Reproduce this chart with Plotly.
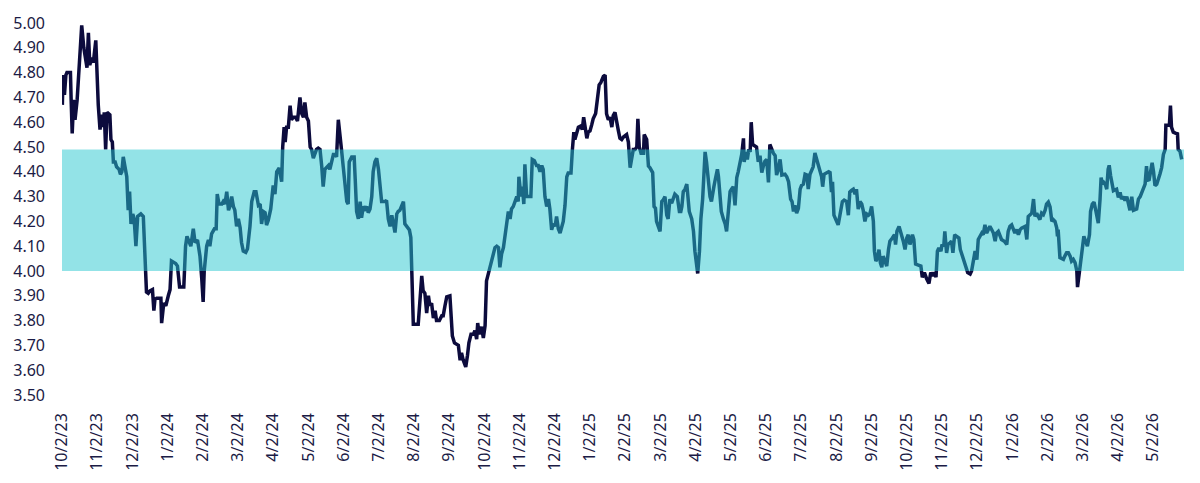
import plotly.graph_objects as go

# Tick labels (one per month, evenly spaced)
tick_labels = ["10/2/23", "11/2/23", "12/2/23", "1/2/24", "2/2/24", "3/2/24", "4/2/24",
               "5/2/24", "6/2/24", "7/2/24", "8/2/24", "9/2/24", "10/2/24", "11/2/24",
               "12/2/24", "1/2/25", "2/2/25", "3/2/25", "4/2/25", "5/2/25", "6/2/25",
               "7/2/25", "8/2/25", "9/2/25", "10/2/25", "11/2/25", "12/2/25", "1/2/26",
               "2/2/26", "3/2/26", "4/2/26", "5/2/26"]

# Time position in months since 10/2/23
months = [
    0.01, 0.03, 0.07, 0.11, 0.14, 0.24, 0.26, 0.29, 0.33, 0.37, 0.43, 0.46, 0.51, 0.56, 0.62,
    0.67, 0.71, 0.75, 0.79, 0.84, 0.89, 0.96, 0.99, 1.03, 1.08, 1.13, 1.17, 1.20, 1.24, 1.28,
    1.36, 1.39, 1.43, 1.46, 1.51, 1.55, 1.62, 1.66, 1.70, 1.74, 1.79, 1.84, 1.88, 1.92, 1.96,
    2.01, 2.05, 2.10, 2.15, 2.24, 2.31, 2.36, 2.40, 2.45, 2.50, 2.57, 2.61, 2.64, 2.69, 2.81,
    2.83, 2.89, 2.95, 3.02, 3.07, 3.11, 3.23, 3.28, 3.34, 3.46, 3.51, 3.55, 3.61, 3.66, 3.73,
    3.78, 3.85, 3.92, 3.97, 4.01, 4.04, 4.11, 4.16, 4.20, 4.25, 4.33, 4.38, 4.41, 4.46, 4.54,
    4.58, 4.63, 4.68, 4.73, 4.77, 4.82, 4.87, 4.91, 4.96, 5.01, 5.06, 5.10, 5.15, 5.22, 5.27,
    5.34, 5.39, 5.46,
    5.51, 5.58, 5.63, 5.67, 5.72, 5.77, 5.81, 5.86, 5.93, 6.00, 6.05, 6.10, 6.17, 6.24, 6.27,
    6.31, 6.34, 6.38, 6.43, 6.48, 6.52, 6.57, 6.63, 6.69, 6.76, 6.81, 6.86, 6.90, 6.95, 7.00,
    7.05, 7.09, 7.14, 7.19, 7.23, 7.28, 7.33, 7.38, 7.42, 7.47, 7.52, 7.57, 7.61, 7.66, 7.71,
    7.76, 7.80, 7.85, 7.90, 7.94, 7.99, 8.04, 8.09, 8.13, 8.16, 8.23, 8.30, 8.33, 8.37, 8.42,
    8.47, 8.51, 8.56, 8.61, 8.66, 8.70, 8.75, 8.80, 8.84, 8.89, 8.94, 8.99, 9.03, 9.08, 9.18,
    9.22, 9.27, 9.32, 9.37, 9.41, 9.46, 9.51, 9.55, 9.60, 9.65, 9.70, 9.74, 9.79, 9.87, 9.91,
    9.94, 9.98, 10.12, 10.17, 10.22, 10.26, 10.31, 10.36, 10.41, 10.45, 10.50, 10.55, 10.60,
    10.64, 10.72, 10.79, 10.83, 10.88, 10.93,
    11.02, 11.05, 11.09, 11.15, 11.26, 11.31, 11.35, 11.40, 11.47, 11.52, 11.56, 11.62, 11.69,
    11.73, 11.78, 11.81, 11.85, 11.88, 11.92, 11.97, 12.02, 12.06, 12.11, 12.16, 12.21, 12.25,
    12.30, 12.35, 12.40, 12.44, 12.49, 12.54, 12.59, 12.63, 12.68, 12.73, 12.77, 12.82, 12.87,
    12.92, 12.96, 12.98, 13.04, 13.08, 13.12, 13.15, 13.20, 13.32, 13.36, 13.42, 13.48, 13.53,
    13.58, 13.63, 13.67, 13.72, 13.77, 13.82, 13.86, 13.91, 13.96, 14.01, 14.05, 14.10, 14.15,
    14.19, 14.24, 14.29, 14.34, 14.38, 14.46, 14.50, 14.54, 14.57, 14.62, 14.67, 14.74, 14.78,
    14.82, 14.86, 14.91, 14.95, 15.00, 15.05, 15.09, 15.16, 15.20, 15.26, 15.31, 15.38, 15.43,
    15.47, 15.52, 15.57, 15.62, 15.66, 15.71, 15.76, 15.80, 15.85, 15.90, 15.95, 15.99, 16.04,
    16.09, 16.14, 16.18, 16.23, 16.28, 16.33, 16.36, 16.40, 16.45, 16.52, 16.54,
    16.61, 16.66, 16.70, 16.78, 16.82, 16.86, 16.89, 16.94, 16.99, 17.04, 17.08, 17.13, 17.18,
    17.22, 17.27, 17.32, 17.37, 17.41, 17.48, 17.54, 17.58, 17.61, 17.65, 17.70, 17.75, 17.79,
    17.82, 17.89, 17.94, 17.98, 18.03, 18.06, 18.11, 18.15, 18.20, 18.27, 18.31, 18.36, 18.41,
    18.45, 18.48, 18.52, 18.56, 18.62, 18.65, 18.69, 18.73, 18.79, 18.84, 18.88, 18.93, 18.98,
    19.02, 19.07, 19.12, 19.17, 19.21, 19.26, 19.31, 19.36, 19.38, 19.43, 19.47, 19.51, 19.55,
    19.58, 19.62, 19.73, 19.78, 19.83, 19.88, 19.92, 19.97, 20.02, 20.07, 20.11, 20.16, 20.21,
    20.26, 20.30, 20.35, 20.40, 20.45, 20.54, 20.59, 20.64, 20.70, 20.74, 20.78, 20.82, 20.87,
    20.92, 20.97, 21.01, 21.06, 21.11, 21.16, 21.20, 21.25, 21.30, 21.34, 21.39, 21.44, 21.49,
    21.53, 21.58, 21.61, 21.65, 21.74, 21.78, 21.82, 21.86, 21.89, 21.93, 21.99, 22.05,
    22.10, 22.17, 22.22, 22.29, 22.34, 22.38, 22.43, 22.48, 22.53, 22.57, 22.62, 22.67, 22.72,
    22.76, 22.81, 22.86, 22.91, 22.95, 23.00, 23.05, 23.08, 23.12, 23.17, 23.21, 23.25, 23.29,
    23.33, 23.38, 23.43, 23.48, 23.52, 23.59, 23.65, 23.68, 23.72, 23.78, 23.84, 23.90, 23.95,
    24.00, 24.04, 24.09, 24.16, 24.20, 24.25, 24.40, 24.44, 24.50, 24.56, 24.63, 24.68, 24.73,
    24.78, 24.83, 24.87, 24.91, 24.97, 25.00, 25.05, 25.08, 25.13, 25.17, 25.22, 25.27, 25.31,
    25.36, 25.41, 25.48, 25.52, 25.60, 25.67, 25.73, 25.80, 25.84, 25.89, 25.94, 25.99, 26.03,
    26.08, 26.13, 26.17, 26.22, 26.27, 26.32, 26.36, 26.41, 26.46, 26.51, 26.55, 26.60, 26.65,
    26.69, 26.77, 26.84, 26.88, 26.93, 26.98, 27.03, 27.07, 27.12, 27.17, 27.22, 27.26, 27.36,
    27.41, 27.45, 27.55, 27.60,
    27.64, 27.69, 27.74, 27.78, 27.83, 27.88, 27.93, 27.97, 28.02, 28.07, 28.12, 28.16, 28.21,
    28.26, 28.28, 28.30, 28.35, 28.45, 28.49, 28.54, 28.59, 28.64, 28.68, 28.73, 28.78, 28.83,
    28.85, 28.90, 28.94, 28.99, 29.03, 29.08, 29.13, 29.19, 29.22, 29.27, 29.32, 29.36, 29.41,
    29.44, 29.49, 29.52, 29.56, 29.60, 29.64, 29.68, 29.72, 29.75, 29.79, 29.83, 29.87, 29.96,
    30.01, 30.06, 30.10, 30.15, 30.20, 30.25, 30.29, 30.34, 30.39, 30.44, 30.53, 30.58, 30.63,
    30.67, 30.72, 30.77, 30.81, 30.84, 30.88, 30.93, 30.97, 31.01, 31.05, 31.10, 31.15, 31.19,
    31.24, 31.29, 31.34, 31.36, 31.46, 31.49, 31.52, 31.57, 31.63, 31.69, 31.71, 31.76, 31.81,
]

# Yield values (%)
yields = [
    4.67, 4.79, 4.71, 4.79, 4.80, 4.80, 4.69, 4.555, 4.69, 4.61, 4.69, 4.76, 4.89, 4.99, 4.90,
    4.86, 4.82, 4.96, 4.83, 4.86, 4.84, 4.93, 4.785, 4.67, 4.57, 4.63, 4.58, 4.64, 4.49, 4.64,
    4.63, 4.53, 4.52, 4.44, 4.44, 4.42, 4.41, 4.39, 4.40, 4.46, 4.42, 4.38, 4.245, 4.32, 4.19,
    4.23, 4.21, 4.10, 4.22, 4.23, 4.22, 4.02, 3.915, 3.91, 3.92, 3.925, 3.84, 3.885, 3.89, 3.89,
    3.79, 3.87, 3.86, 3.90, 3.925, 4.04, 4.03, 4.02, 3.935, 3.935, 4.10, 4.14, 4.115, 4.10, 4.17,
    4.115, 4.125, 4.06, 3.97, 3.875, 4.00, 4.10, 4.125, 4.10, 4.15, 4.17, 4.17, 4.31, 4.27, 4.27,
    4.28, 4.27, 4.32, 4.245, 4.26, 4.30, 4.26, 4.245, 4.18, 4.21, 4.175, 4.115, 4.08, 4.075, 4.09,
    4.18, 4.28, 4.32,
    4.32, 4.265, 4.27, 4.19, 4.24, 4.235, 4.185, 4.205, 4.25, 4.345, 4.31, 4.40, 4.415, 4.36, 4.50,
    4.58, 4.52, 4.58, 4.58, 4.667, 4.61, 4.62, 4.62, 4.605, 4.70, 4.635, 4.62, 4.68, 4.62, 4.605,
    4.50, 4.49, 4.455, 4.48, 4.49, 4.495, 4.49, 4.42, 4.34, 4.41, 4.42, 4.425, 4.41, 4.44, 4.47,
    4.47, 4.46, 4.61, 4.555, 4.49, 4.42, 4.36, 4.28, 4.27, 4.44, 4.46, 4.46, 4.37, 4.24, 4.21,
    4.28, 4.215, 4.26, 4.25, 4.26, 4.235, 4.25, 4.30, 4.40, 4.44, 4.455, 4.41, 4.36, 4.28, 4.28,
    4.285, 4.21, 4.18, 4.225, 4.185, 4.155, 4.23, 4.24, 4.245, 4.26, 4.28, 4.19, 4.18, 4.165, 4.135,
    4.00, 3.785, 3.785, 3.91, 3.98, 3.92, 3.91, 3.83, 3.90, 3.86, 3.87, 3.81, 3.84,
    3.80, 3.80, 3.82, 3.82, 3.86, 3.896,
    3.90, 3.817, 3.738, 3.71, 3.70, 3.64, 3.67, 3.64, 3.613, 3.66, 3.71, 3.745, 3.745,
    3.76, 3.725, 3.79, 3.745, 3.76, 3.775, 3.73, 3.78, 3.96, 3.99, 4.015, 4.04, 4.07,
    4.094, 4.10, 4.094, 4.015, 4.07, 4.094, 4.14, 4.20, 4.24, 4.21, 4.25, 4.26, 4.28,
    4.30, 4.28, 4.38, 4.30, 4.34, 4.27, 4.43, 4.30, 4.30, 4.45, 4.445, 4.425, 4.425,
    4.40, 4.425, 4.41, 4.30, 4.26, 4.29, 4.25, 4.166, 4.19, 4.18, 4.22, 4.17, 4.153,
    4.18, 4.20, 4.265, 4.38, 4.395, 4.395, 4.49, 4.56, 4.53, 4.555, 4.58, 4.585, 4.57,
    4.62, 4.58, 4.535, 4.56, 4.565, 4.59, 4.614, 4.635, 4.68, 4.75, 4.76, 4.785, 4.79,
    4.634, 4.61, 4.62, 4.58, 4.627, 4.64, 4.59, 4.57, 4.535, 4.53, 4.54, 4.545, 4.55,
    4.52, 4.417, 4.45, 4.49, 4.49, 4.50, 4.614, 4.50, 4.475, 4.475, 4.55,
    4.53, 4.423, 4.417, 4.397, 4.26, 4.253, 4.20, 4.18, 4.16, 4.28, 4.286, 4.30, 4.225,
    4.21, 4.29, 4.273, 4.30, 4.31, 4.30, 4.24, 4.24, 4.26, 4.32, 4.33, 4.35, 4.30,
    4.24, 4.21, 4.16, 4.08, 4.03, 3.99, 4.08, 4.21, 4.29, 4.48, 4.44, 4.36, 4.30,
    4.28, 4.32, 4.34, 4.37, 4.41, 4.38, 4.32, 4.24, 4.21, 4.19, 4.16, 4.26, 4.32,
    4.33, 4.34, 4.265, 4.377, 4.40, 4.443, 4.47, 4.535, 4.44, 4.48, 4.45, 4.49, 4.48,
    4.60, 4.51, 4.50, 4.44, 4.465, 4.397, 4.42, 4.443, 4.45, 4.357, 4.51, 4.49, 4.475,
    4.465, 4.387, 4.41, 4.45, 4.387, 4.39, 4.38, 4.36, 4.29, 4.28, 4.24, 4.265, 4.233,
    4.253, 4.33, 4.345, 4.35, 4.39, 4.387, 4.33, 4.39, 4.41, 4.42, 4.476, 4.45, 4.42,
    4.40, 4.38, 4.34, 4.39, 4.397, 4.40, 4.397, 4.318, 4.36, 4.225, 4.205, 4.186,
    4.225, 4.28, 4.286, 4.28, 4.225, 4.318, 4.325, 4.33, 4.31, 4.33, 4.25, 4.28, 4.27,
    4.246, 4.20, 4.23, 4.225, 4.23, 4.26, 4.20, 4.08, 4.04, 4.053, 4.086, 4.033, 4.015,
    4.06, 4.04, 4.02, 4.087, 4.12, 4.133, 4.146, 4.107, 4.16, 4.18, 4.153, 4.12, 4.087,
    4.133, 4.146, 4.107, 4.146, 4.127, 4.028, 4.02, 3.975, 3.994, 3.97, 3.95, 3.994, 3.98,
    3.994, 3.975, 4.08, 4.093, 4.08, 4.107, 4.10, 4.16, 4.073, 4.107, 4.113, 4.12, 4.073,
    4.146, 4.14, 4.133, 4.087, 4.053, 4.02, 3.994, 3.988, 4.00, 4.04, 4.08, 4.046, 4.127,
    4.14, 4.153, 4.146, 4.186, 4.153, 4.173, 4.18, 4.167, 4.153, 4.12, 4.153, 4.16, 4.146,
    4.127, 4.12, 4.107, 4.16, 4.18, 4.186, 4.167, 4.153, 4.167, 4.146, 4.167, 4.173, 4.18,
    4.127, 4.22, 4.233, 4.29,
    4.22, 4.233, 4.213, 4.207, 4.233, 4.227, 4.245, 4.27, 4.278, 4.258, 4.20, 4.207, 4.20,
    4.173, 4.14, 4.167, 4.054, 4.047, 4.06, 4.074, 4.074, 4.06, 4.04, 4.047, 4.034, 4.00,
    3.935, 3.994, 4.054, 4.113, 4.14, 4.12, 4.10, 4.147, 4.24, 4.27, 4.278, 4.25, 4.22,
    4.193, 4.29, 4.377, 4.35, 4.357, 4.35, 4.33, 4.41, 4.426, 4.384, 4.343, 4.324, 4.33,
    4.297, 4.317, 4.29, 4.30, 4.284, 4.30, 4.278, 4.245, 4.30, 4.245, 4.25, 4.29, 4.30,
    4.317, 4.33, 4.35, 4.423, 4.37, 4.364, 4.397, 4.436, 4.40, 4.344, 4.35, 4.37, 4.39,
    4.417, 4.47, 4.49, 4.588, 4.588, 4.667, 4.58, 4.56, 4.556, 4.553, 4.49, 4.483, 4.45,
]

band_low = 4.00
band_high = 4.49
x_end = 31.875

text_color = "#1b1b45"
line_color = "#0c0b3d"
band_color = "rgb(40,200,208)"

fig = go.Figure()
fig.add_trace(go.Scatter(
    x=months, y=yields, mode="lines",
    line=dict(color=line_color, width=3.5),
    showlegend=False, hoverinfo="skip",
))

fig.add_shape(type="rect", xref="paper", x0=0, x1=1, yref="y",
              y0=band_low, y1=band_high, fillcolor=band_color, opacity=0.5,
              line=dict(width=0), layer="above")

fig.update_layout(
    width=1200, height=483,
    margin=dict(l=62, r=16, t=21, b=83),
    paper_bgcolor="white", plot_bgcolor="white",
    font=dict(family="Noto Sans", size=16, color=text_color),
    showlegend=False,
)
fig.update_xaxes(
    range=[0, x_end],
    tickmode="array", tickvals=list(range(len(tick_labels))), ticktext=tick_labels,
    tickangle=-90, showgrid=False, zeroline=False, showline=False, ticks="",
    ticklabelstandoff=14,
)
fig.update_yaxes(
    range=[3.5, 5.0], dtick=0.1, tick0=3.5, tickformat=".2f",
    showgrid=False, zeroline=False, showline=False, ticks="",
    ticklabelstandoff=16,
)

fig.write_html("out.html")
